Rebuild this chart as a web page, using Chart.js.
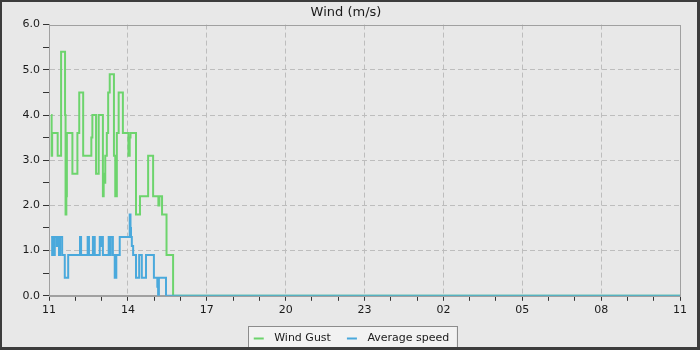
<!DOCTYPE html>
<html>
<head>
<meta charset="utf-8">
<script src="https://cdn.jsdelivr.net/npm/chart.js@4.4.1/dist/chart.umd.min.js"></script>
<style>
  html, body { margin: 0; padding: 0; background: #3c3c3c; }
  #wrap { width: 700px; height: 350px; }
</style>
</head>
<body>
<div id="wrap"><canvas id="chart" width="700" height="350"></canvas></div>
<script>
// time axis: hours after 11:00, values change at these points (step lines)
const xTickLabels = ['11', '14', '17', '20', '23', '02', '05', '08', '11'];

const gustTimes = [0.08, 0.10, 0.12, 0.33, 0.46, 0.61, 0.63, 0.66, 0.68, 0.89, 1.08, 1.15, 1.30,
  1.61, 1.65, 1.79, 1.89, 2.05, 2.08, 2.12, 2.14, 2.20, 2.25, 2.31, 2.47, 2.52, 2.58, 2.65,
  2.81, 3.02, 3.07, 3.10, 3.31, 3.46, 3.77, 3.96, 4.16, 4.20, 4.30, 4.47, 4.72, 24];
const gustValues = [4.0, 3.1, 3.6, 3.1, 5.4, 4.0, 1.8, 2.2, 3.6, 2.7, 3.6, 4.5, 3.1,
  3.5, 4.0, 2.7, 4.0, 2.2, 2.7, 2.5, 3.1, 3.6, 4.5, 4.9, 3.1, 2.2, 3.6, 4.5,
  3.6, 3.1, 3.5, 3.6, 1.8, 2.2, 3.1, 2.2, 2.0, 2.2, 1.8, 0.9, 0.0, 0.0];

const avgTimes = [0.08, 0.12, 0.15, 0.20, 0.22, 0.30, 0.33, 0.38, 0.42, 0.50, 0.60, 0.73,
  1.18, 1.22, 1.27, 1.47, 1.52, 1.67, 1.74, 1.93, 1.97, 2.00, 2.05, 2.27, 2.32, 2.35, 2.43,
  2.50, 2.56, 2.69, 3.07, 3.10, 3.12, 3.15, 3.20, 3.31, 3.43, 3.53, 3.69, 3.99, 4.12, 4.15,
  4.18, 4.45, 24];
const avgValues = [1.3, 0.9, 1.3, 0.9, 1.3, 1.1, 1.3, 0.9, 1.3, 0.9, 0.4, 0.9,
  1.3, 0.9, 0.9, 1.3, 0.9, 1.3, 0.9, 1.3, 1.1, 1.3, 0.9, 1.3, 0.9, 1.3, 0.9,
  0.4, 0.9, 1.3, 1.8, 1.5, 1.3, 1.1, 0.9, 0.4, 0.9, 0.4, 0.9, 0.4, 0.2, 0.0,
  0.4, 0.0, 0.0];

const gustColor = '#6dd46d';
const avgColor = '#4aa9dc';

const toPoints = (ts, vs) => ts.map((t, i) => ({ x: t, y: vs[i] }));

// legend marker: short line with some blank space before it
function marker(color) {
  const c = document.createElement('canvas');
  c.width = 26;
  c.height = 4;
  const g = c.getContext('2d');
  g.fillStyle = color;
  g.fillRect(11, 1, 10, 2);
  return c;
}

const frame = {
  id: 'frame',
  beforeDraw(chart) {
    const { ctx, width, height, legend } = chart;
    ctx.save();
    ctx.fillStyle = '#3c3c3c';
    ctx.fillRect(0, 0, width, height);
    ctx.fillStyle = '#e8e8e8';
    ctx.fillRect(2, 2, width - 5, height - 5);
    // legend box
    const boxes = legend.legendHitBoxes;
    if (boxes && boxes.length) {
      const l = Math.min(...boxes.map(b => b.left)) + 5;
      const r = Math.max(...boxes.map(b => b.left + b.width)) + 7;
      const t = Math.min(...boxes.map(b => b.top)) - 7;
      const bt = Math.max(...boxes.map(b => b.top + b.height)) + 4;
      ctx.fillStyle = '#f2f2f2';
      ctx.fillRect(l, t, r - l, bt - t);
      ctx.strokeStyle = '#8c8c8c';
      ctx.lineWidth = 1;
      ctx.strokeRect(Math.round(l) + 0.5, Math.round(t) + 0.5, Math.round(r - l), Math.round(bt - t));
    }
    ctx.fillStyle = '#3c3c3c';
    ctx.fillRect(0, height - 3, width, 3);
    ctx.restore();
  },
  beforeDatasetsDraw(chart) {
    const { ctx, chartArea: a } = chart;
    ctx.save();
    ctx.strokeStyle = '#a0a0a0';
    ctx.lineWidth = 1;
    ctx.strokeRect(Math.round(a.left) + 0.5, Math.round(a.top) + 0.5,
      Math.round(a.right - a.left), Math.round(a.bottom - a.top));
    ctx.restore();
  }
};

const font = { family: 'DejaVu Sans', size: 11 };

new Chart(document.getElementById('chart'), {
  type: 'line',
  data: {
    datasets: [
      {
        label: 'Wind Gust',
        data: toPoints(gustTimes, gustValues),
        borderColor: gustColor,
        backgroundColor: gustColor,
        borderWidth: 2,
        stepped: true,
        pointRadius: 0,
        pointStyle: marker(gustColor),
        order: 1
      },
      {
        label: 'Average speed',
        data: toPoints(avgTimes, avgValues),
        borderColor: avgColor,
        backgroundColor: avgColor,
        borderWidth: 2,
        stepped: true,
        pointRadius: 0,
        pointStyle: marker(avgColor),
        order: 0
      }
    ]
  },
  options: {
    responsive: false,
    animation: false,
    layout: { padding: { left: 0, right: 8, top: 1, bottom: -4 } },
    plugins: {
      title: {
        display: true,
        text: 'Wind (m/s)',
        color: '#1a1a1a',
        font: { family: 'DejaVu Sans', size: 13, weight: 'normal' },
        padding: { top: 4, bottom: 4 }
      },
      legend: {
        position: 'bottom',
        labels: {
          color: '#1a1a1a',
          font: font,
          usePointStyle: true,
          pointStyleWidth: 26,
          boxHeight: 11,
          padding: 5,
          sort: (a, b) => a.datasetIndex - b.datasetIndex
        }
      },
      tooltip: { enabled: false }
    },
    scales: {
      x: {
        type: 'linear',
        min: 0,
        max: 24,
        ticks: {
          stepSize: 1,
          autoSkip: false,
          maxRotation: 0,
          color: '#1a1a1a',
          font: font,
          padding: 3,
          callback: v => (v % 3 === 0 ? xTickLabels[v / 3] : '')
        },
        grid: {
          color: c => (c.tick && c.tick.value % 3 === 0 && c.tick.value > 0 && c.tick.value < 24 ? '#bdbdbd' : 'rgba(0,0,0,0)'),
          tickColor: '#333',
          tickLength: 5,
          lineWidth: 1
        },
        border: { color: '#a0a0a0', dash: [5, 3] },
        afterFit: s => { s.height += 8; }
      },
      y: {
        min: 0,
        max: 6,
        ticks: {
          stepSize: 0.5,
          color: '#1a1a1a',
          font: font,
          padding: 3,
          callback: v => (Number.isInteger(v) ? v.toFixed(1) : '')
        },
        grid: {
          color: c => (c.tick && Number.isInteger(c.tick.value) && c.tick.value > 0 && c.tick.value < 6 ? '#bdbdbd' : 'rgba(0,0,0,0)'),
          tickColor: '#333',
          tickLength: 6,
          lineWidth: 1
        },
        border: { color: '#a0a0a0', dash: [5, 3] },
        afterFit: s => { s.width = 49; }
      },
      spacer: {
        type: 'linear',
        position: 'right',
        display: true,
        grid: { display: false },
        border: { display: false },
        ticks: { display: false },
        afterFit: s => { s.width = 12; }
      }
    }
  },
  plugins: [frame]
});
</script>
</body>
</html>
